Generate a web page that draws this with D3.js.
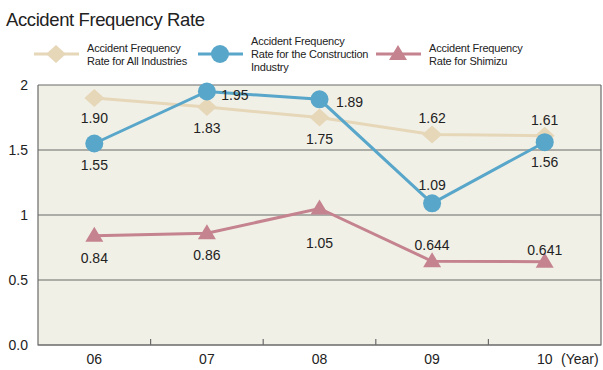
<!DOCTYPE html>
<html><head><meta charset="utf-8">
<script src="https://cdn.jsdelivr.net/npm/d3@7"></script>
<style>body{margin:0;background:#fff}svg{display:block;font-family:"Liberation Sans",Arial,sans-serif}</style>
</head><body><svg id="c" width="603" height="370"></svg>
<script>
const years = ["06", "07", "08", "09", "10"];
const allIndustries = [1.90, 1.83, 1.75, 1.62, 1.61];
const construction = [1.55, 1.95, 1.89, 1.09, 1.56];
const shimizu = [0.84, 0.86, 1.05, 0.644, 0.641];
const allLabels = ["1.90", "1.83", "1.75", "1.62", "1.61"];
const conLabels = ["1.55", "1.95", "1.89", "1.09", "1.56"];
const shiLabels = ["0.84", "0.86", "1.05", "0.644", "0.641"];
const yTicks = [0, 0.5, 1, 1.5, 2];
const yTickLabels = ["0.0", "0.5", "1", "1.5", "2"];

const svg = d3.select("#c");
const m = {left: 38, right: 601, top: 85, bottom: 345};
const x = d3.scaleBand().domain(years).range([m.left, m.right]);
const y = d3.scaleLinear().domain([0, 2]).range([m.bottom, m.top]);

// title
svg.append("text").attr("x", 6).attr("y", 26).attr("font-size", 18.5)
  .attr("letter-spacing", -0.4).attr("fill", "#222")
  .text("Accident Frequency Rate");

// plot background
svg.append("rect").attr("x", m.left).attr("y", m.top).attr("width", m.right - m.left)
  .attr("height", m.bottom - m.top).attr("fill", "#f1f0e7");

// gridlines
svg.append("g").selectAll("line").data(yTicks).join("line")
  .attr("x1", m.left).attr("x2", m.right).attr("y1", d => y(d)).attr("y2", d => y(d))
  .attr("stroke", "#6b6b6b").attr("stroke-width", 1.2);
// frame
svg.append("path").attr("d", `M${m.left},${m.top}V${m.bottom}H${m.right}V${m.top}`)
  .attr("fill", "none").attr("stroke", "#6b6b6b").attr("stroke-width", 1.2);

// y axis labels
svg.append("g").selectAll("text").data(yTicks).join("text")
  .attr("x", 28).attr("y", d => y(d) + 5).attr("text-anchor", "end")
  .attr("font-size", 14).attr("fill", "#222").text((d, i) => yTickLabels[i]);

// x category separators (inner ticks)
svg.append("g").selectAll("line").data(years.slice(1)).join("line")
  .attr("x1", d => x(d)).attr("x2", d => x(d)).attr("y1", m.bottom).attr("y2", m.bottom - 6)
  .attr("stroke", "#6b6b6b").attr("stroke-width", 1.2);
svg.append("g").selectAll("text").data(years).join("text")
  .attr("x", d => x(d) + x.bandwidth() / 2).attr("y", 364).attr("text-anchor", "middle")
  .attr("font-size", 14).attr("fill", "#222").text(d => d);
svg.append("text").attr("x", 561).attr("y", 364).attr("font-size", 14).attr("fill", "#222").text("(Year)");

const cx = i => x(years[i]) + x.bandwidth() / 2;
const line = d3.line().x((d, i) => cx(i)).y(d => y(d));

const colAll = "#e6d7b9", colCon = "#58a6c9", colShi = "#c4838f";

function markerPath(kind, px, py) {
  if (kind === "diamond") return `M${px},${py - 9}L${px + 10},${py}L${px},${py + 9}L${px - 10},${py}Z`;
  if (kind === "triangle") return `M${px},${py - 9}L${px + 9},${py + 6}L${px - 9},${py + 6}Z`;
  return null;
}
function drawMarker(g, kind, px, py, color) {
  if (kind === "circle") g.append("circle").attr("cx", px).attr("cy", py).attr("r", 9).attr("fill", color);
  else g.append("path").attr("d", markerPath(kind, px, py)).attr("fill", color);
}

const series = [
  {vals: allIndustries, labels: allLabels, color: colAll, kind: "diamond",
   pos: [[0, 20], [0, 21], [0, 21], [0, -16], [0, -16]]},
  {vals: shimizu, labels: shiLabels, color: colShi, kind: "triangle",
   pos: [[0, 22], [0, 22], [0, 34], [0, -16], [0, -12]]},
  {vals: construction, labels: conLabels, color: colCon, kind: "circle",
   pos: [[0, 21], [28, 3], [30, 3], [0, -18], [0, 20]]}
];

series.forEach(s => {
  const g = svg.append("g");
  g.append("path").datum(s.vals).attr("d", line).attr("fill", "none")
    .attr("stroke", s.color).attr("stroke-width", 3);
  s.vals.forEach((v, i) => drawMarker(g, s.kind, cx(i), y(v), s.color));
});
series.forEach(s => {
  s.vals.forEach((v, i) => {
    svg.append("text").attr("x", cx(i) + s.pos[i][0]).attr("y", y(v) + s.pos[i][1] + 5)
      .attr("text-anchor", "middle").attr("font-size", 14).attr("fill", "#222").text(s.labels[i]);
  });
});

// legend
const legend = [
  {color: colAll, kind: "diamond", x0: 34, lines: ["Accident Frequency", "Rate for All Industries"]},
  {color: colCon, kind: "circle", x0: 198, lines: ["Accident Frequency", "Rate for the Construction", "Industry"]},
  {color: colShi, kind: "triangle", x0: 376, lines: ["Accident Frequency", "Rate for Shimizu"]}
];
legend.forEach(l => {
  const g = svg.append("g");
  const ly = 54;
  g.append("line").attr("x1", l.x0).attr("x2", l.x0 + 45).attr("y1", ly).attr("y2", ly)
    .attr("stroke", l.color).attr("stroke-width", 3);
  drawMarker(g, l.kind, l.x0 + 22, ly, l.color);
  const t = g.append("text").attr("font-size", 11).attr("letter-spacing", -0.2).attr("fill", "#222");
  const startY = ly - (l.lines.length - 1) * 13 / 2 + 4;
  l.lines.forEach((s, k) => t.append("tspan").attr("x", l.x0 + 53).attr("y", startY + k * 13).text(s));
});
</script></body></html>
